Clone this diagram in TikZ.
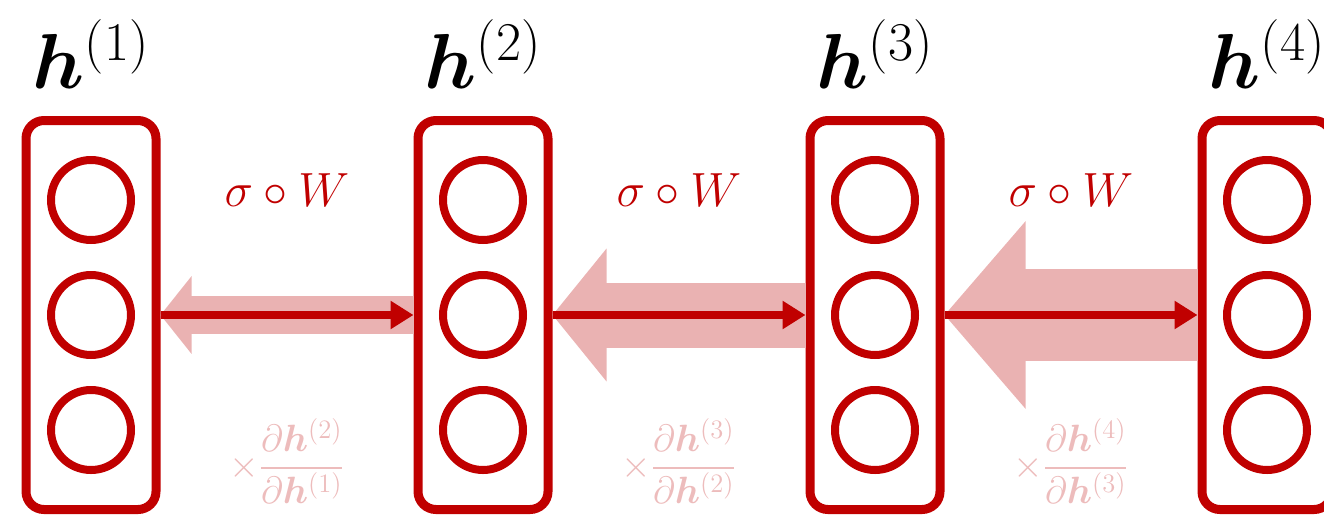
\RequirePackage{fix-cm}
\documentclass[tikz,border=0pt]{standalone}
\usepackage{amsmath,bm}
\usetikzlibrary{arrows.meta, positioning}
\definecolor{netred}{HTML}{C00000}
\definecolor{gradfill}{HTML}{EAB2B2}
\definecolor{gradtext}{HTML}{EDBCBC}
\tikzset{
  layerbox/.style={rectangle, rounded corners=9pt, draw=netred, line width=4.5pt,
                   minimum width=65pt, minimum height=194.5pt, inner sep=0pt},
  neuron/.style  ={circle, draw=netred, line width=4pt, minimum size=40pt, inner sep=0pt},
  hlabel/.style  ={inner sep=0pt, font=\fontsize{39}{44}\selectfont},
  wlabel/.style  ={inner sep=0pt, text=netred, font=\fontsize{24}{28}\selectfont},
  glabel/.style  ={inner sep=0pt, text=gradtext, font=\fontsize{19}{23}\selectfont},
  fwd/.style     ={draw=netred, line width=4pt, -{Triangle[length=11.5pt, width=13.5pt]}},
  bwd/.style     ={draw=gradfill},
}

\begin{document}
\begin{tikzpicture}[node distance=13.5pt and 126.5pt]
    \useasboundingbox (0,0) rectangle (662pt,-257.5pt);
    \node[layerbox] at (45.5pt,-157.5pt) (h1) {};
    \node[layerbox, right=of h1] (h2) {};
    \node[layerbox, right=of h2] (h3) {};
    \node[layerbox, right=of h3] (h4) {};
    \node[neuron] at (h1) (h1b) {};
    \node[neuron, above=of h1b] (h1a) {};
    \node[neuron, below=of h1b] (h1c) {};
    \node[neuron] at (h2) (h2b) {};
    \node[neuron, above=of h2b] (h2a) {};
    \node[neuron, below=of h2b] (h2c) {};
    \node[neuron] at (h3) (h3b) {};
    \node[neuron, above=of h3b] (h3a) {};
    \node[neuron, below=of h3b] (h3c) {};
    \node[neuron] at (h4) (h4b) {};
    \node[neuron, above=of h4b] (h4a) {};
    \node[neuron, below=of h4b] (h4c) {};
    \node[hlabel, above=13.5pt of h1] (l1) {$\bm{h}^{(1)}$};
    \node[hlabel, above=13.5pt of h2] (l2) {$\bm{h}^{(2)}$};
    \node[hlabel, above=13.5pt of h3] (l3) {$\bm{h}^{(3)}$};
    \node[hlabel, above=13.5pt of h4] (l4) {$\bm{h}^{(4)}$};
    \draw[bwd, line width=19pt, -{Triangle[length=15.5pt, width=38pt]}] (h2.west) --
        node[glabel, yshift=-73pt] (g1) {$\times\dfrac{\partial\bm{h}^{(2)}}{\partial\bm{h}^{(1)}}$} (h1.east);
    \draw[bwd, line width=32.5pt, -{Triangle[length=27pt, width=65pt]}] (h3.west) --
        node[glabel, yshift=-73pt] (g2) {$\times\dfrac{\partial\bm{h}^{(3)}}{\partial\bm{h}^{(2)}}$} (h2.east);
    \draw[bwd, line width=46pt, -{Triangle[length=40.5pt, width=91.5pt]}] (h4.west) --
        node[glabel, yshift=-73pt] (g3) {$\times\dfrac{\partial\bm{h}^{(4)}}{\partial\bm{h}^{(3)}}$} (h3.east);
    \draw[fwd] (h1.east) -- node[wlabel, above=52.5pt] (w1) {$\sigma\circ W$} (h2.west);
    \draw[fwd] (h2.east) -- node[wlabel, above=52.5pt] (w2) {$\sigma\circ W$} (h3.west);
    \draw[fwd] (h3.east) -- node[wlabel, above=52.5pt] (w3) {$\sigma\circ W$} (h4.west);
\end{tikzpicture}
\end{document}
